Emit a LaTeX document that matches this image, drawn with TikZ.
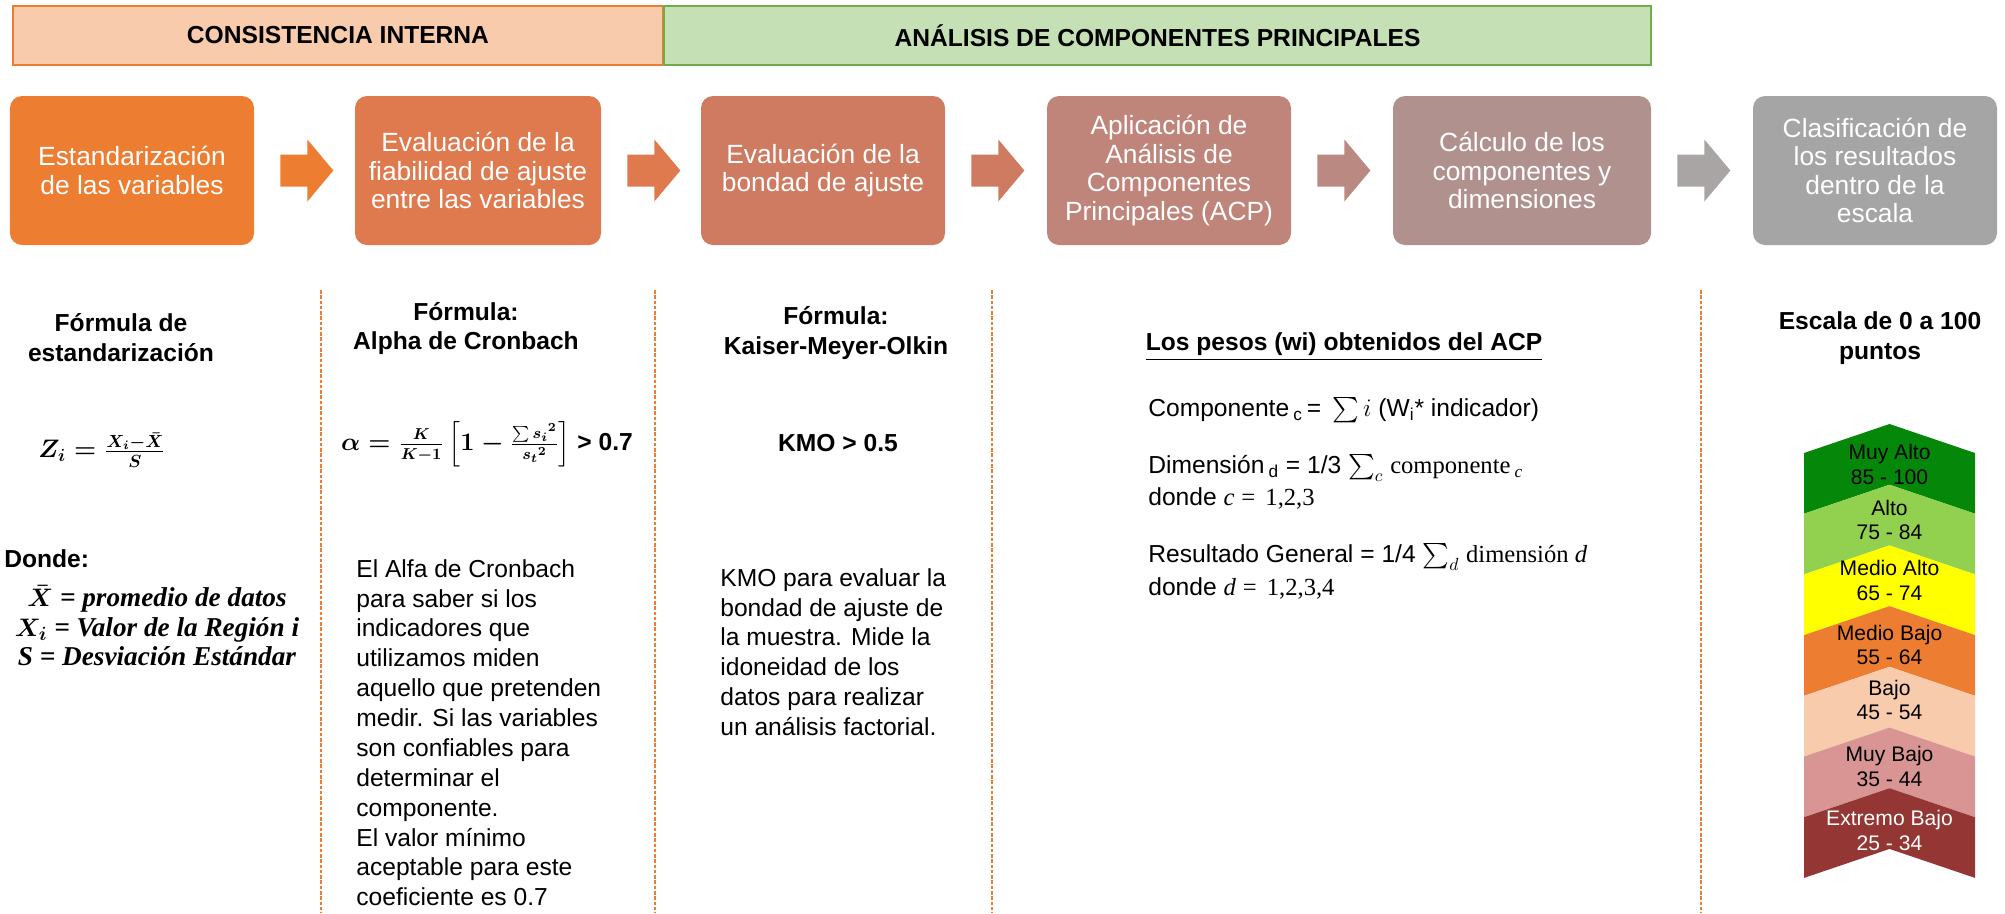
\documentclass[tikz,border=0pt]{standalone}
\usepackage{amsmath}
\usepackage[no-math]{fontspec}
\setmainfont{Liberation Sans}
\newfontfamily\serifm{Liberation Serif}
\usetikzlibrary{calc}

\definecolor{naranja}{HTML}{ED7D31}
\definecolor{melocoton}{HTML}{F8CBAD}
\definecolor{verde}{HTML}{70AD47}
\definecolor{verdeclaro}{HTML}{C5E0B4}
\definecolor{paso1}{HTML}{ED7D31}
\definecolor{paso2}{HTML}{DE7A4E}
\definecolor{paso3}{HTML}{CF7B62}
\definecolor{paso4}{HTML}{BF857A}
\definecolor{paso5}{HTML}{B1918E}
\definecolor{paso6}{HTML}{A5A5A5}
\definecolor{flecha1}{HTML}{ED7D31}
\definecolor{flecha2}{HTML}{DE7A4E}
\definecolor{flecha3}{HTML}{CF7B62}
\definecolor{flecha4}{HTML}{BA8981}
\definecolor{flecha5}{HTML}{A9A5A4}
\definecolor{muyalto}{HTML}{05870A}
\definecolor{alto}{HTML}{92D050}
\definecolor{medioalto}{HTML}{FFFF00}
\definecolor{mediobajo}{HTML}{ED7D31}
\definecolor{bajo}{HTML}{F8CBAD}
\definecolor{muybajo}{HTML}{D99594}
\definecolor{extremobajo}{HTML}{943634}

\begin{document}
\begin{tikzpicture}[x=0.2mm,y=-0.2mm]

    \tikzstyle{banda}=[draw, line width=1pt, minimum height=11.8mm, inner sep=0pt, font=\fontsize{14}{17}\selectfont\bfseries]
    \tikzstyle{caja}=[rounded corners=2.4mm, minimum width=48.8mm, minimum height=29.8mm, inner sep=0pt, align=center, text=white, font=\fontsize{15}{16.2}\selectfont]
    \tikzstyle{titulo}=[align=center, font=\fontsize{14}{17}\selectfont\bfseries]
    \tikzstyle{texto}=[align=left, anchor=north west, inner sep=0pt, font=\fontsize{14}{17}\selectfont]
    \tikzstyle{linea}=[anchor=west, inner sep=0pt, font=\fontsize{14}{17}\selectfont]
    \tikzstyle{nivel}=[align=center, font=\fontsize{12}{14}\selectfont]
    \tikzstyle{separador}=[draw=naranja, line width=0.8pt, dash pattern=on 2pt off 1pt]

    \useasboundingbox (0,0) rectangle (2005,913);

    \node[banda, draw=naranja, fill=melocoton, minimum width=130mm] (consistencia) at (338,35.5) {CONSISTENCIA INTERNA};
    \node[banda, draw=verde, fill=verdeclaro, minimum width=197.4mm] (analisis) at (1157.5,35.5) {ANÁLISIS DE COMPONENTES PRINCIPALES};

    \node[caja, fill=paso1] (paso1) at (132,170.5) {Estandarización\\de las variables};
    \node[caja, fill=paso2, minimum width=49.2mm] (paso2) at (478,170.5) {Evaluación de la\\fiabilidad de ajuste\\entre las variables};
    \node[caja, fill=paso3] (paso3) at (823,170.5) {Evaluación de la\\bondad de ajuste};
    \node[caja, fill=paso4] (paso4) at (1169,170.5) {Aplicación de\\Análisis de\\Componentes\\Principales (ACP)};
    \node[caja, fill=paso5, minimum width=51.6mm] (paso5) at (1522,170.5) {Cálculo de los\\componentes y\\dimensiones};
    \node[caja, fill=paso6] (paso6) at (1875,170.5) {Clasificación de\\los resultados\\dentro de la\\escala};

    \foreach \a/\b in {paso1/flecha1, paso2/flecha2, paso3/flecha3, paso4/flecha4, paso5/flecha5}
        \fill[\b] ($(\a.east)+(26,-16)$) -- ++(27,0) -- ++(0,-15) -- ($(\a.east)+(79,0)$)
                  -- ++(-26,31) -- ++(0,-15) -- ++(-27,0) -- cycle;

    \draw[separador] (321,290)  -- (321,913)
                     (655,290)  -- (655,913)
                     (992,290)  -- (992,913)
                     (1701,290) -- (1701,913);

    \node[titulo] (formula1) at (121,338) {Fórmula de\\estandarización};
    \node[font=\fontsize{14}{17}\selectfont] (zeta) at (102,450) {$\boldsymbol{Z_i=\frac{X_i-\bar{X}}{S}}$};
    \node[titulo, anchor=west, inner sep=0pt] (donde) at (4,559) {Donde:};
    \node[align=center, inner sep=0pt, font=\serifm\fontsize{15.5}{16.8}\selectfont\bfseries\itshape] (variables) at (157,626)
        {$\boldsymbol{\bar{X}}$ = promedio de datos\\$\boldsymbol{X_i}$ = Valor de la Región i\\S = Desviación Estándar};

    \node[titulo] (formula2) at (466,328.5) {Fórmula:\\Alpha de Cronbach};
    \node[font=\fontsize{13.5}{17}\selectfont] (alfa) at (487,444)
        {$\boldsymbol{\alpha=\frac{K}{K-1}\left[1-\frac{\sum {s_i}^2}{{s_t}^2}\right]}$ \textbf{\fontsize{14}{17}\selectfont > 0.7}};
    \node[texto] (cronbach) at (356,559) {El Alfa de Cronbach\\para saber si los\\indicadores que\\utilizamos miden\\aquello que pretenden\\medir. Si las variables\\son confiables para\\determinar el\\componente.\\El valor mínimo\\aceptable para este\\coeficiente es 0.7};

    \node[titulo] (formula3) at (836,333) {Fórmula:\\Kaiser-Meyer-Olkin};
    \node[titulo] (kmo) at (838,443) {KMO > 0.5};
    \node[texto] (muestra) at (720,568) {KMO para evaluar la\\bondad de ajuste de\\la muestra. Mide la\\idoneidad de los\\datos para realizar\\un análisis factorial.};

    \node[titulo] (pesos) at (1344,347) {\underline{Los pesos (wi) obtenidos del ACP}};
    \node[linea] (componente) at (1148,410) {Componente\,\textsubscript{c}\,= \,$\sum i$ (W\textsubscript{i}* indicador)};
    \node[linea] (dimension) at (1148,468) {Dimensión\,\textsubscript{d} = 1/3 $\sum_c$ {\serifm componente}\,\textsubscript{\serifm\itshape c}};
    \node[linea] (dondec) at (1148,498) {donde {\serifm\itshape c} {\serifm = \,1,2,3}};
    \node[linea] (resultado) at (1148,557) {Resultado General = 1/4 $\sum_d$ {\serifm dimensión \itshape d}};
    \node[linea] (donded) at (1148,588) {donde {\serifm\itshape d} {\serifm = \,1,2,3,4}};

    \node[titulo] (escala) at (1880,338) {Escala de 0 a 100\\puntos};

    \foreach \y/\ty/\col/\tc/\lab/\rng [count=\k] in {424/464.5/muyalto/black/Muy Alto/85 - 100,
                                                      484.7/520/alto/black/Alto/75 - 84,
                                                      545.4/580.5/medioalto/black/Medio Alto/65 - 74,
                                                      606.1/645/mediobajo/black/Medio Bajo/55 - 64,
                                                      666.8/700/bajo/black/Bajo/45 - 54,
                                                      727.5/766.5/muybajo/black/Muy Bajo/35 - 44,
                                                      788.2/830.5/extremobajo/white/Extremo Bajo/25 - 34}
    {
        \fill[\col] (1804,\y+29) -- (1889.5,\y) -- (1975,\y+29) -- (1975,\y+89.7)
                    -- (1889.5,\y+60.7) -- (1804,\y+89.7) -- cycle;
        \node[nivel, text=\tc] (nivel\k) at (1889.5,\ty) {\lab\\\rng};
    }

\end{tikzpicture}
\end{document}
